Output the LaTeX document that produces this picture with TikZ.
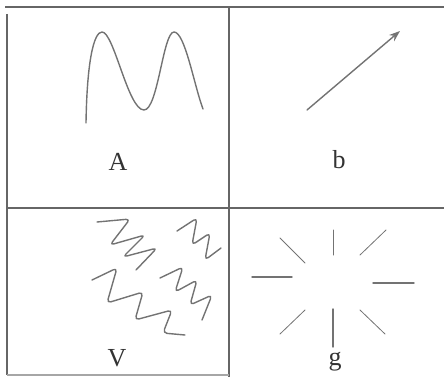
\documentclass[tikz,border=0pt]{standalone}
\usepackage{fontspec}
\setmainfont{Liberation Serif}
\usetikzlibrary{arrows.meta}
\begin{document}
\begin{tikzpicture}[x=1pt,y=-1pt,
  grid/.style={draw=black!60,line width=1.1pt},
  stroke/.style={draw=black!55,line width=1.4pt,line cap=round,line join=round},
  lbl/.style={text=black!80,font=\fontsize{26}{26}\selectfont,inner sep=0pt}]
\useasboundingbox (0,0) rectangle (444,377);
% grid
\draw[grid] (5,7) -- (444,7);
\draw[grid] (7,14) -- (7,375);
\draw[grid] (7,208) -- (444,208);
\draw[grid] (229,7) -- (229,377);
\draw[grid,draw=black!35] (7,375) -- (229,375);
% A: wave
\draw[stroke] (86,123) .. controls (87,60) and (94,32) .. (102,32)
  .. controls (114,32) and (128,110) .. (144,110)
  .. controls (158,110) and (163,32) .. (174,32)
  .. controls (185,32) and (194,85) .. (203,109);
\node[lbl] (A) at (118,162) {A};
% b: arrow
\coordinate (b0) at (307,110);
\coordinate (b1) at (400,31);
\draw[stroke,-{Stealth[length=11pt,width=8pt]}] (b0) -- (b1);
\node[lbl] (b) at (339,160) {b};
% V: zigzags
\draw[stroke,rounded corners=4pt] (97,222) -- (130,219) -- (110,245) -- (145,235) -- (123,257) -- (157,248) -- (136,270);
\draw[stroke,rounded corners=4pt] (177,231) -- (197,218) -- (192,245) -- (210,233) -- (205,260) -- (221,248);
\draw[stroke,rounded corners=4pt] (92,280) -- (117,268) -- (107,303) -- (143,292) -- (135,320) -- (172,310) -- (163,333) -- (185,335);
\draw[stroke,rounded corners=4pt] (160,278) -- (183,267) -- (175,292) -- (197,280) -- (190,305) -- (212,295) -- (202,320);
\node[lbl] (V) at (117,358) {V};
% g: rays
\draw[stroke,line width=1pt] (333,230) -- (333,255);
\draw[stroke,line width=1.4pt] (333,309) -- (333,347);
\draw[stroke,line width=1.4pt] (252,277) -- (292,277);
\draw[stroke,line width=1.4pt] (373,283) -- (414,283);
\draw[stroke,line width=0.8pt] (280,238) -- (305,263);
\draw[stroke,line width=0.8pt] (360,255) -- (386,230);
\draw[stroke,line width=0.8pt] (280,334) -- (305,310);
\draw[stroke,line width=0.8pt] (360,310) -- (385,334);
\node[lbl] (g) at (335,362) {g};
\end{tikzpicture}
\end{document}
